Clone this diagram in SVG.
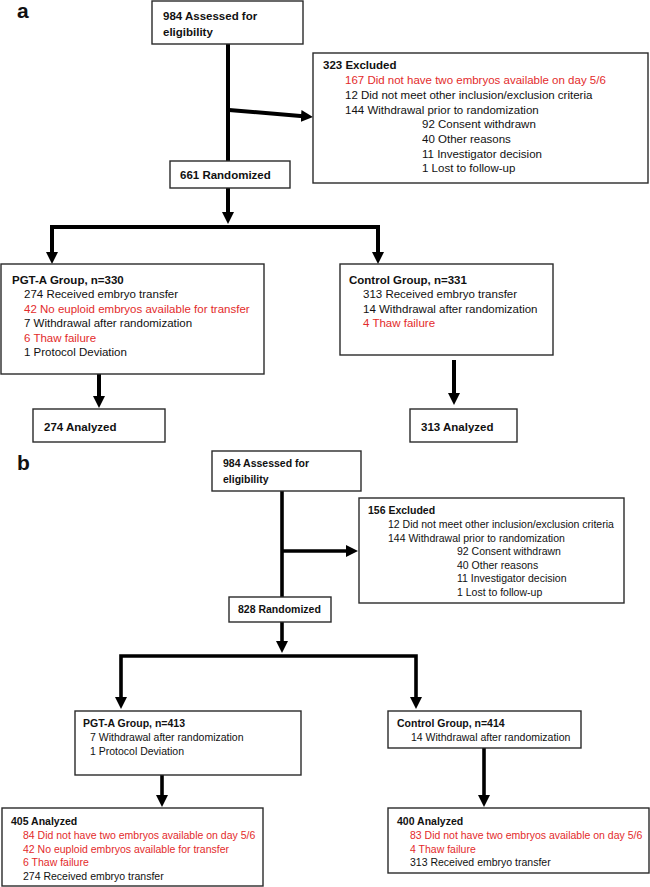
<svg xmlns="http://www.w3.org/2000/svg" width="650" height="887" viewBox="0 0 650 887">
<style>
text{font-family:"Liberation Sans",Arial,sans-serif;fill:#111}
.a{font-size:11.5px}
.b{font-size:10.5px}
.t{font-weight:bold}
.r{fill:#e32b2b}
.lbl{font-size:21px;font-weight:bold}
.box{fill:#fff;stroke:#2a2a2a;stroke-width:1.4}
.ca{fill:none;stroke:#000;stroke-width:4;stroke-linejoin:miter}
.cb{fill:none;stroke:#000;stroke-width:3.6;stroke-linejoin:miter}
</style>
<defs>
<marker id="ah" viewBox="0 0 10 10" refX="2" refY="5" markerWidth="12" markerHeight="12" markerUnits="userSpaceOnUse" orient="auto">
<path d="M0,0 L10,5 L0,10 z" fill="#000"/>
</marker>
</defs>
<rect width="650" height="887" fill="#fff"/>
<text class="lbl" x="17" y="18">a</text>
<text class="lbl" x="17" y="470">b</text>

<g id="connectors">
<path class="ca" d="M228,44 V161"/>
<path class="ca" d="M229,110 L303.4,116.2" marker-end="url(#ah)"/>
<path class="ca" d="M228,188 V214.4" marker-end="url(#ah)"/>
<path class="ca" d="M228,227 H52 V254.4" marker-end="url(#ah)"/>
<path class="ca" d="M228,227 H378 V254.4" marker-end="url(#ah)"/>
<path class="ca" d="M99,374 V398.4" marker-end="url(#ah)"/>
<path class="ca" d="M454,360 V395.4" marker-end="url(#ah)"/>

<path class="cb" d="M282,491 V597"/>
<path class="cb" d="M282,551 H348.4" marker-end="url(#ah)"/>
<path class="cb" d="M282,622 V643.4" marker-end="url(#ah)"/>
<path class="cb" d="M282,656 H121 V699.4" marker-end="url(#ah)"/>
<path class="cb" d="M282,656 H416 V699.4" marker-end="url(#ah)"/>
<path class="cb" d="M162,775 V797.4" marker-end="url(#ah)"/>
<path class="cb" d="M484,748 V797.4" marker-end="url(#ah)"/>
</g>

<g id="a-assessed">
<rect class="box" x="152" y="1" width="151" height="43"/>
<text class="a t" x="163" y="20">984 Assessed for</text>
<text class="a t" x="163" y="36">eligibility</text>
</g>
<g id="a-excluded">
<rect class="box" x="313" y="53" width="335" height="130"/>
<text class="a t" x="323" y="69">323 Excluded</text>
<text class="a r" x="345" y="84">167 Did not have two embryos available on day 5/6</text>
<text class="a" x="345" y="99">12 Did not meet other inclusion/exclusion criteria</text>
<text class="a" x="345" y="113.5">144 Withdrawal prior to randomization</text>
<text class="a" x="422" y="128">92 Consent withdrawn</text>
<text class="a" x="422" y="143">40 Other reasons</text>
<text class="a" x="422" y="157.5">11 Investigator decision</text>
<text class="a" x="422" y="172">1 Lost to follow-up</text>
</g>
<g id="a-randomized">
<rect class="box" x="170" y="161" width="120" height="27"/>
<text class="a t" x="180" y="179">661 Randomized</text>
</g>
<g id="a-pgta">
<rect class="box" x="1" y="264" width="263" height="110"/>
<text class="a t" x="12" y="284">PGT-A Group, n=330</text>
<text class="a" x="24" y="298">274 Received embryo transfer</text>
<text class="a r" x="24" y="312.5">42 No euploid embryos available for transfer</text>
<text class="a" x="24" y="327">7 Withdrawal after randomization</text>
<text class="a r" x="24" y="341.5">6 Thaw failure</text>
<text class="a" x="24" y="356">1 Protocol Deviation</text>
</g>
<g id="a-control">
<rect class="box" x="340" y="264" width="213" height="91"/>
<text class="a t" x="349" y="284">Control Group, n=331</text>
<text class="a" x="363" y="298">313 Received embryo transfer</text>
<text class="a" x="363" y="312.5">14 Withdrawal after randomization</text>
<text class="a r" x="363" y="327">4 Thaw failure</text>
</g>
<g id="a-analyzed-pgta">
<rect class="box" x="33" y="409" width="132" height="33"/>
<text class="a t" x="44" y="431">274 Analyzed</text>
</g>
<g id="a-analyzed-control">
<rect class="box" x="410" y="409" width="107" height="33"/>
<text class="a t" x="421" y="431">313 Analyzed</text>
</g>

<g id="b-assessed">
<rect class="box" x="212" y="451" width="149" height="40"/>
<text class="b t" x="223" y="467">984 Assessed for</text>
<text class="b t" x="223" y="483">eligibility</text>
</g>
<g id="b-excluded">
<rect class="box" x="359" y="498" width="265" height="105"/>
<text class="b t" x="368" y="514">156 Excluded</text>
<text class="b" x="388" y="528">12 Did not meet other inclusion/exclusion criteria</text>
<text class="b" x="388" y="541.5">144 Withdrawal prior to randomization</text>
<text class="b" x="457" y="555">92 Consent withdrawn</text>
<text class="b" x="457" y="568.5">40 Other reasons</text>
<text class="b" x="457" y="582">11 Investigator decision</text>
<text class="b" x="457" y="595.5">1 Lost to follow-up</text>
</g>
<g id="b-randomized">
<rect class="box" x="229" y="597" width="102" height="25"/>
<text class="b t" x="238" y="613">828 Randomized</text>
</g>
<g id="b-pgta">
<rect class="box" x="75" y="711" width="226" height="64"/>
<text class="b t" x="83" y="727">PGT-A Group, n=413</text>
<text class="b" x="90" y="741">7 Withdrawal after randomization</text>
<text class="b" x="90" y="755">1 Protocol Deviation</text>
</g>
<g id="b-control">
<rect class="box" x="388" y="711" width="193" height="37"/>
<text class="b t" x="397" y="727">Control Group, n=414</text>
<text class="b" x="411" y="741">14 Withdrawal after randomization</text>
</g>
<g id="b-analyzed-pgta">
<rect class="box" x="2" y="808" width="261" height="78"/>
<text class="b t" x="11" y="825">405 Analyzed</text>
<text class="b r" x="23" y="839">84 Did not have two embryos available on day 5/6</text>
<text class="b r" x="23" y="852.5">42 No euploid embryos available for transfer</text>
<text class="b r" x="23" y="866">6 Thaw failure</text>
<text class="b" x="23" y="879.5">274 Received embryo transfer</text>
</g>
<g id="b-analyzed-control">
<rect class="box" x="388" y="808" width="261" height="65"/>
<text class="b t" x="397" y="825">400 Analyzed</text>
<text class="b r" x="410" y="839">83 Did not have two embryos available on day 5/6</text>
<text class="b r" x="410" y="852.5">4 Thaw failure</text>
<text class="b" x="410" y="866">313 Received embryo transfer</text>
</g>
</svg>
